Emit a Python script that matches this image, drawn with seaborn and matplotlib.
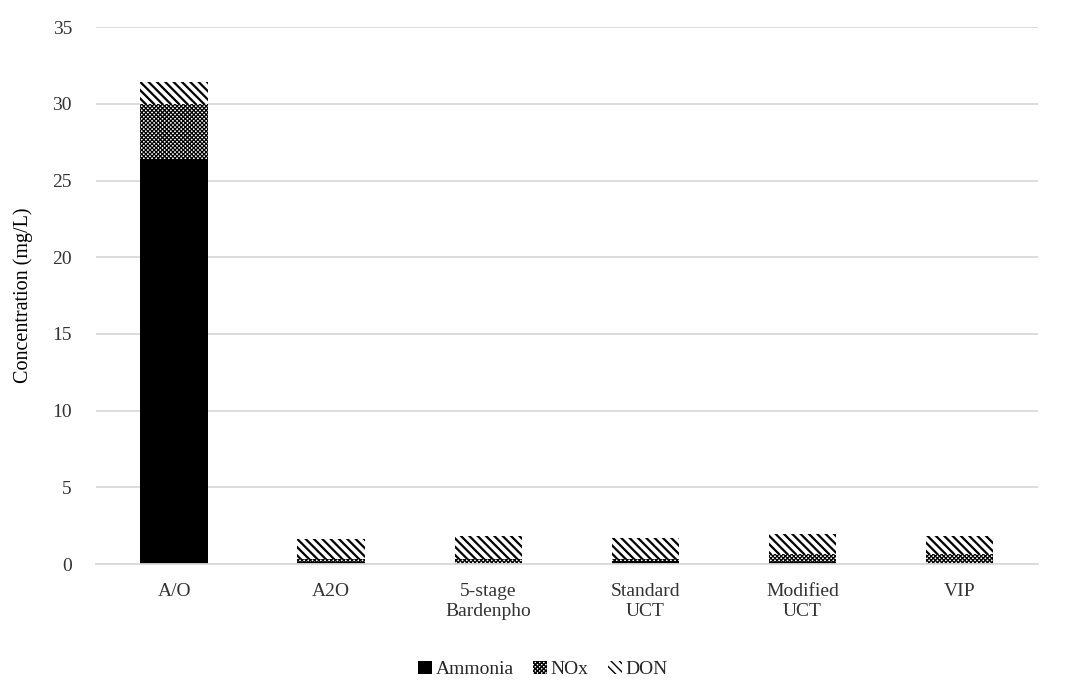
import matplotlib
matplotlib.use("Agg")
import matplotlib.pyplot as plt
from matplotlib.patches import Patch
import seaborn as sns
import pandas as pd
import numpy as np

# Effluent nitrogen species per process configuration (mg/L)
processes = ["A/O", "A2O", "5-stage\nBardenpho", "Standard\nUCT", "Modified\nUCT", "VIP"]
ammonia = [26.4, 0.15, 0.05, 0.2, 0.1, 0.05]
nox = [3.6, 0.2, 0.25, 0.15, 0.55, 0.6]
don = [1.4, 1.25, 1.5, 1.35, 1.3, 1.2]

sns.set_theme(style="white")
plt.rcParams["font.family"] = ["Liberation Serif", "DejaVu Serif"]

DON_HATCH = "\\\\\\\\"
NOX_HATCH = "xxxxxxxx"

fig, ax = plt.subplots(figsize=(10.86, 6.82), dpi=100)
fig.subplots_adjust(left=0.088, right=0.956, top=0.96, bottom=0.173)

df = pd.DataFrame({"process": processes, "ammonia": ammonia, "nox": nox, "don": don})
df["lvl_nox"] = df["ammonia"] + df["nox"]
df["lvl_don"] = df["lvl_nox"] + df["don"]

width = 0.43
# Stack drawn back to front as cumulative bars
with plt.rc_context({"hatch.linewidth": 1.6}):
    sns.barplot(data=df, x="process", y="lvl_don", color="white", width=width,
                hatch=DON_HATCH, edgecolor="black", linewidth=0, saturation=1, ax=ax)
with plt.rc_context({"hatch.linewidth": 0.9}):
    sns.barplot(data=df, x="process", y="lvl_nox", color="white", width=width,
                hatch=NOX_HATCH, edgecolor="black", linewidth=0, saturation=1, ax=ax)
sns.barplot(data=df, x="process", y="ammonia", color="black", width=width,
            edgecolor="black", linewidth=0, saturation=1, ax=ax)

ax.set_ylim(0, 35)
ax.set_yticks(np.arange(0, 36, 5))
ax.set_xlim(-0.5, len(processes) - 0.5)
ax.yaxis.grid(True, color="#d9d9d9", linewidth=1.3)
ax.set_axisbelow(True)
for s in ["top", "right", "left"]:
    ax.spines[s].set_visible(False)
ax.spines["bottom"].set_color("#d9d9d9")
ax.spines["bottom"].set_linewidth(1.3)
ax.tick_params(axis="both", length=0, labelsize=14, colors="#333333")
ax.tick_params(axis="y", pad=17)
ax.tick_params(axis="x", pad=14)
ax.set_xlabel("")
ax.set_ylabel("Concentration (mg/L)", fontsize=14.5, color="black", labelpad=14)

handles = []
handles.append(Patch(facecolor="black", edgecolor="black", linewidth=0, label="Ammonia"))
with plt.rc_context({"hatch.linewidth": 0.9}):
    handles.append(Patch(facecolor="white", edgecolor="black", linewidth=0,
                         hatch=NOX_HATCH, label="NOx"))
with plt.rc_context({"hatch.linewidth": 1.6}):
    handles.append(Patch(facecolor="white", edgecolor="black", linewidth=0,
                         hatch=DON_HATCH, label="DON"))
fig.legend(handles=handles, loc="lower center", ncol=3, frameon=False,
           fontsize=14, handlelength=0.7, handleheight=0.7, handletextpad=0.2,
           columnspacing=1.0, bbox_to_anchor=(0.5, -0.02))

fig.savefig("out.png", dpi=100)
